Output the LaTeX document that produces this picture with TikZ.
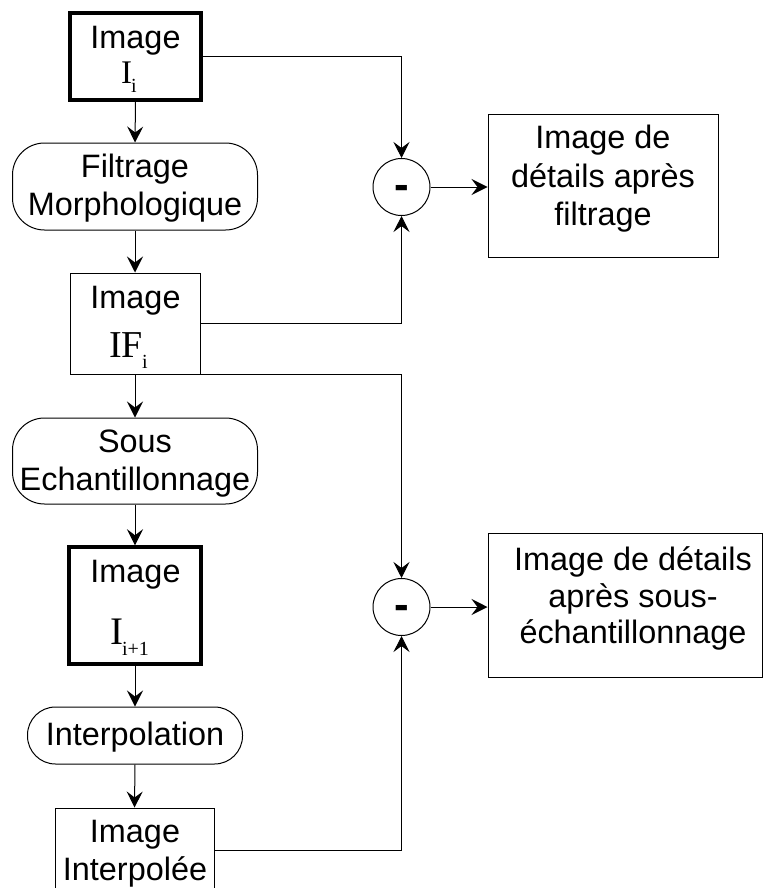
\documentclass[tikz,border=0pt]{standalone}
\usepackage{fontspec}
\setmainfont{Liberation Sans}
\newfontfamily\romanI{Liberation Serif}
\usetikzlibrary{arrows.meta}

\tikzset{
  conn/.style={line width=1pt, -{Stealth[length=16pt,width=16pt,inset=6pt]}},
  plainbox/.style={draw, line width=1pt, inner sep=0pt},
  heavybox/.style={draw, line width=3.5pt, inner sep=0pt},
  procbox/.style={draw, line width=1pt, inner sep=0pt, rounded corners=32pt},
  subtract/.style={draw, circle, line width=1pt, inner sep=0pt, minimum size=57pt,
    font=\bfseries\fontsize{44}{44}\selectfont},
  lbl/.style={inner sep=0pt, anchor=base, font=\fontsize{32.4}{38}\selectfont},
  sym/.style={inner sep=0pt, anchor=base}
}
% minus sign centred on the circle's middle
\newcommand{\minusmark}{\raisebox{-12.5pt}[0pt][0pt]{-}}

\begin{document}
\begin{tikzpicture}[x=1pt,y=-1pt]
\useasboundingbox (0,0) rectangle (763,888);
\clip (0,0) rectangle (763,888);

% main chain, top to bottom
\node[heavybox, minimum width=131pt, minimum height=87pt] (Ii) at (135.5,56.5) {};
\node[procbox, minimum width=245pt, minimum height=87pt] (filt) at (135,186.5) {};
\node[plainbox, minimum width=130pt, minimum height=101pt] (IF) at (135,323.5) {};
\node[procbox, minimum width=245pt, minimum height=86pt] (sous) at (135,461) {};
\node[heavybox, minimum width=132pt, minimum height=117pt] (Inext) at (135,605.5) {};
\node[procbox, rounded corners=28pt, minimum width=215pt, minimum height=57pt] (interp) at (135,735.5) {};
\node[plainbox, minimum width=159pt, minimum height=84pt] (Iint) at (134.5,850) {};

% difference operators and detail images
\node[subtract] (c1) at (401.5,187) {\minusmark};
\node[subtract] (c2) at (401.5,607) {\minusmark};
\node[plainbox, minimum width=230pt, minimum height=142pt] (d1) at (603,186) {};
\node[plainbox, minimum width=274pt, minimum height=144pt] (d2) at (625,605) {};

% labels
\node[lbl] at (135.5,49) {Image};
\node[sym] at (129,84) {\romanI\fontsize{33}{33}\selectfont I\kern-1pt\raisebox{-9pt}{\fontsize{20}{20}\selectfont i}};
\node[lbl] at (135,177) {Filtrage};
\node[lbl] at (135,215) {Morphologique};
\node[lbl] at (135.5,308) {Image};
\node[sym] at (128.5,357) {\romanI\fontsize{38}{38}\selectfont IF\kern-1pt\raisebox{-11pt}{\fontsize{20}{20}\selectfont i}};
\node[lbl] at (135,452) {Sous};
\node[lbl] at (135,490) {Echantillonnage};
\node[lbl] at (135.5,582) {Image};
\node[sym] at (129.5,644) {\romanI\fontsize{39}{39}\selectfont I\kern-1pt\raisebox{-11pt}{\fontsize{20}{20}\selectfont i+1}};
\node[lbl] at (135,745) {Interpolation};
\node[lbl] at (135,842) {Image};
\node[lbl] at (135,880) {Interpolée};

\node[lbl] at (603,148) {Image de};
\node[lbl] at (603,187) {détails après};
\node[lbl] at (603,225) {filtrage};
\node[lbl] at (633,570) {Image de détails};
\node[lbl] at (633,607) {après sous-};
\node[lbl] at (633,643) {échantillonnage};

% connectors
\draw[conn] (Ii.south) -- (filt.north);
\draw[conn] (filt.south) -- (IF.north);
\draw[conn] (IF.south) -- (sous.north);
\draw[conn] (sous.south) -- (Inext.north);
\draw[conn] (Inext.south) -- (interp.north);
\draw[conn] (interp.south) -- (Iint.north);

\draw[conn] (Ii.east) -| (c1.north);
\draw[conn] (IF.east) -| (c1.south);
\draw[conn] (IF.south east) -| (c2.north);
\draw[conn] (Iint.east) -| (c2.south);

\draw[conn] (c1.east) -- (d1.west |- c1.east);
\draw[conn] (c2.east) -- (d2.west |- c2.east);
\end{tikzpicture}
\end{document}
